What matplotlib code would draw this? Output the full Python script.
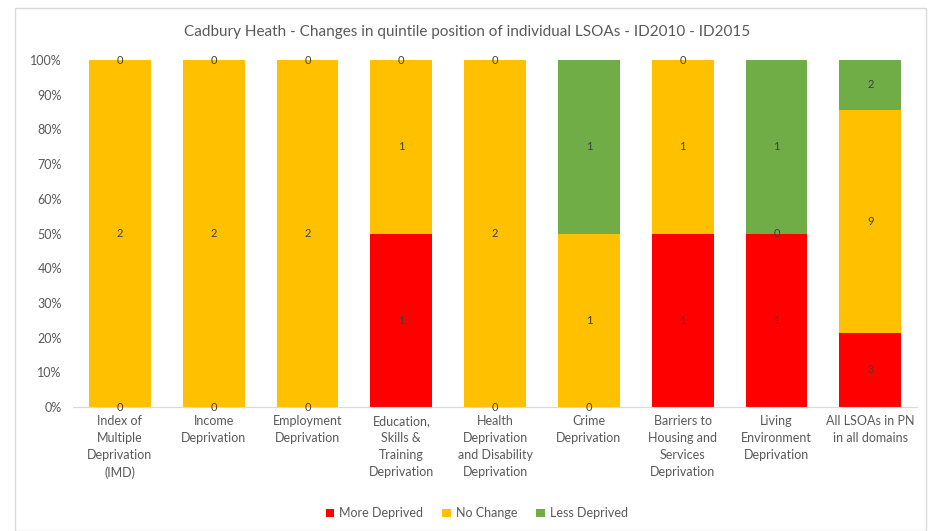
import matplotlib
matplotlib.use('Agg')
from matplotlib import pyplot as plt
from matplotlib.patches import Rectangle
import numpy as np

categories = ['Index of\nMultiple\nDeprivation\n(IMD)', 'Income\nDeprivation', 'Employment\nDeprivation',
              'Education,\nSkills &\nTraining\nDeprivation', 'Health\nDeprivation\nand Disability\nDeprivation',
              'Crime\nDeprivation', 'Barriers to\nHousing and\nServices\nDeprivation',
              'Living\nEnvironment\nDeprivation', 'All LSOAs in PN\nin all domains']
more_deprived = [0, 0, 0, 1, 0, 0, 1, 1, 3]
no_change = [2, 2, 2, 1, 2, 1, 1, 0, 9]
less_deprived = [0, 0, 0, 0, 0, 1, 0, 1, 2]

series = [('More Deprived', more_deprived, '#FF0000'),
          ('No Change', no_change, '#FFC000'),
          ('Less Deprived', less_deprived, '#70AD47')]

plt.rcParams['font.family'] = ['Lato', 'DejaVu Sans']
grey = '#595959'

fig = plt.figure(figsize=(9.35, 5.31), dpi=100)
fig.patches.append(Rectangle((0.016, 0.0), 0.974, 0.985, transform=fig.transFigure,
                             fill=False, edgecolor='#d9d9d9', linewidth=1))
ax = fig.add_axes([0.078, 0.2335, 0.903, 0.6535])

x = np.arange(len(categories))
totals = np.array(more_deprived) + np.array(no_change) + np.array(less_deprived)
bottom = np.zeros(len(categories))
for name, vals, col in series:
    share = np.array(vals) / totals
    ax.bar(x, share, 0.66, bottom=bottom, color=col, label=name)
    for xi, b, s, v in zip(x, bottom, share, vals):
        ax.text(xi, b + s / 2, str(v), ha='center', va='center', fontsize=8, color='#404040')
    bottom += share

ax.set_xlim(-0.5, len(categories) - 0.5)
ax.set_ylim(0, 1)
ax.set_yticks(np.arange(0, 1.01, 0.1))
ax.set_yticklabels(['%d%%' % round(t * 100) for t in np.arange(0, 1.01, 0.1)])
ax.set_xticks(x)
ax.set_xticklabels(categories, fontsize=9, color=grey, linespacing=1.5)
ax.tick_params(axis='y', labelsize=9, colors=grey, length=0, pad=8)
ax.tick_params(axis='x', length=0, pad=6)
for s in ['top', 'right', 'left']:
    ax.spines[s].set_visible(False)
ax.spines['bottom'].set_color('#d9d9d9')

fig.text(0.5, 0.94, 'Cadbury Heath - Changes in quintile position of individual LSOAs - ID2010 - ID2015',
         ha='center', va='center', fontsize=11, color=grey)
fig.legend(loc='center', bbox_to_anchor=(0.51, 0.033), ncol=3, frameon=False, fontsize=9,
           handlelength=0.7, handleheight=0.7, columnspacing=1.5, handletextpad=0.4, labelcolor=grey)

fig.savefig('out.png', dpi=100)
